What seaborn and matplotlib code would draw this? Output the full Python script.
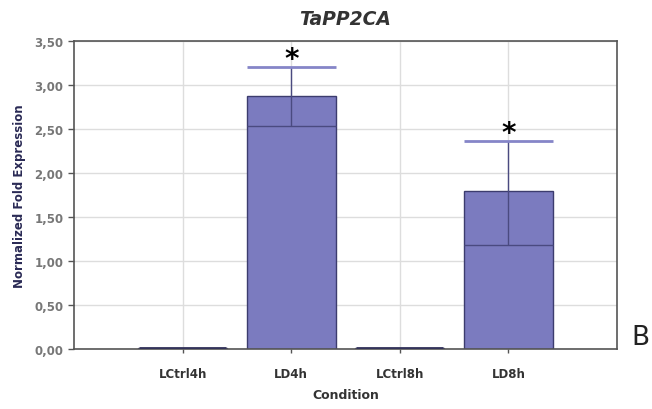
import matplotlib
matplotlib.use("Agg")
import matplotlib.pyplot as plt
import seaborn as sns
import pandas as pd
import numpy as np
from matplotlib.ticker import FuncFormatter

conditions = ["LCtrl4h", "LD4h", "LCtrl8h", "LD8h"]
values = [0.01, 2.88, 0.01, 1.80]
err_low = [0.01, 2.53, 0.01, 1.18]
err_high = [0.01, 3.20, 0.01, 2.36]
significant = [False, True, False, True]
y_ticks = [0.0, 0.5, 1.0, 1.5, 2.0, 2.5, 3.0, 3.5]

df = pd.DataFrame({"Condition": conditions, "Expr": values})

sns.set_style("white")
plt.rcParams['font.family'] = ['DejaVu Sans']

fig = plt.figure(figsize=(6.52, 4.10), dpi=100)
ax = fig.add_axes([74/652, 1-350/410, (617-74)/652, (350-42)/410])

sns.barplot(data=df, x="Condition", y="Expr", color="#7b7bbf", saturation=1,
            width=0.82, edgecolor="#3c3c6e", linewidth=1.0, ax=ax, zorder=2)

x = np.arange(len(conditions))
for i in range(len(conditions)):
    if values[i] > 0.1:
        ax.vlines(x[i], err_low[i], err_high[i], color="#4a4a80", lw=1.0, zorder=3)
        ax.hlines(err_high[i], x[i]-0.41, x[i]+0.41, color="#8585c8", lw=2.0, zorder=3)
        ax.hlines(err_low[i], x[i]-0.41, x[i]+0.41, color="#4a4a80", lw=1.0, zorder=3)
    else:
        ax.hlines(values[i], x[i]-0.4, x[i]+0.4, color="#33335a", lw=2.0, zorder=3)
    if significant[i]:
        ax.text(x[i], err_high[i]+0.10, "*", ha="center", va="center",
                fontsize=20, fontweight="bold", color="black")

ax.set_xlim(-1, 4)
ax.set_ylim(0, 3.5)
ax.set_yticks(y_ticks)
ax.yaxis.set_major_formatter(FuncFormatter(lambda v, p: f"{v:.2f}".replace(".", ",")))
ax.set_xticks(x)
ax.set_xticklabels(conditions)
ax.grid(True, color="#dddddd", lw=1.0, zorder=0)
ax.set_axisbelow(True)
for s in ax.spines.values():
    s.set_visible(True)
    s.set_color("#555555")
    s.set_linewidth(1.2)

ax.tick_params(axis="y", direction="out", length=4, width=1, color="#555555",
               labelsize=8.5, labelcolor="#777777", left=True)
ax.tick_params(axis="x", direction="out", length=3, width=1, color="#555555",
               labelsize=8.5, labelcolor="#333333", bottom=True, pad=10)
for lbl in ax.get_xticklabels():
    lbl.set_fontweight("bold")
for lbl in ax.get_yticklabels():
    lbl.set_fontweight("bold")

ax.set_xlabel("Condition", fontsize=9, fontweight="bold", color="#333333", labelpad=6)
ax.set_ylabel("Normalized Fold Expression", fontsize=8.5, fontweight="bold",
              color="#2a2a55", labelpad=6)
ax.set_title("TaPP2CA", fontsize=13.5, fontweight="bold", fontstyle="italic",
             color="#333333", pad=12)

fig.text(640/652, 1-338/410, "B", fontsize=19, ha="center", va="center", color="#222222")

fig.savefig("out.png", dpi=100)
